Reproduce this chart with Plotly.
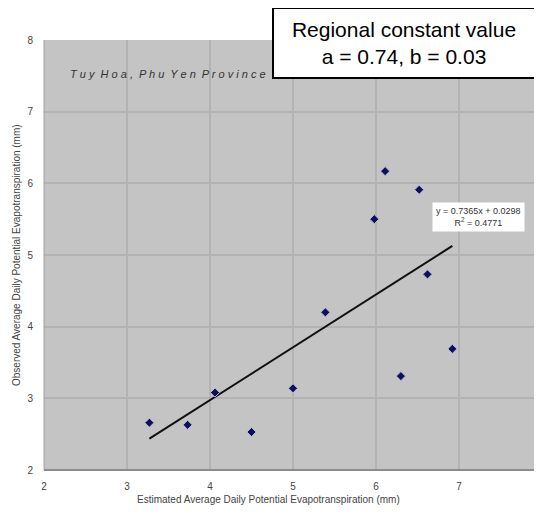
import plotly.graph_objects as go

est = [3.27, 3.73, 4.06, 4.50, 5.00, 5.39, 5.98, 6.11, 6.30, 6.52, 6.62, 6.92]
obs = [2.66, 2.63, 3.08, 2.53, 3.14, 4.20, 5.50, 6.17, 3.31, 5.91, 4.73, 3.69]
slope = 0.7365
intercept = 0.0298
r2 = 0.4771
tick_vals = [2, 3, 4, 5, 6, 7, 8]

fit_x = [min(est), max(est)]
fit_y = [slope * v + intercept for v in fit_x]

fig = go.Figure()
fig.add_trace(go.Scatter(x=fit_x, y=fit_y, mode="lines",
                         line=dict(color="#111111", width=2), hoverinfo="skip"))
fig.add_trace(go.Scatter(x=est, y=obs, mode="markers",
                         marker=dict(symbol="diamond", size=7, color="#10105a",
                                     line=dict(color="#b8b8e0", width=1))))

axis_common = dict(range=[2, 8], tickvals=tick_vals, showgrid=True,
                   gridcolor="#b3b3b3", gridwidth=2, zeroline=False,
                   tickfont=dict(family="Arial", size=10, color="#444444"),
                   showline=False, ticks="", automargin=False)

W, H = 534, 508
L, R, T, B = 36, 0, 32, 46
fig.update_layout(
    width=W, height=H,
    margin=dict(l=L, r=R, t=T, b=B),
    paper_bgcolor="white", plot_bgcolor="#c4c4c4",
    showlegend=False,
    font=dict(family="Arial"),
    xaxis=dict(**axis_common, ticklabelstandoff=9),
    yaxis=dict(**axis_common, ticklabelstandoff=10),
)

fig.add_shape(type="line", xref="paper", yref="paper", x0=0, x1=1, y0=0, y1=0,
              line=dict(color="#8c8c8c", width=2))
fig.add_shape(type="line", xref="paper", yref="paper", x0=0, x1=0, y0=0, y1=1,
              line=dict(color="#a0a0a0", width=1))

pw, ph = W - L - R, H - T - B

# axis titles
fig.add_annotation(x=(260 - L) / pw, y=-(492 - (H - B)) / ph, xref="paper", yref="paper",
                   text="Estimated Average Daily Potential Evapotranspiration (mm)",
                   showarrow=False, xanchor="center", yanchor="middle",
                   font=dict(family="Arial", size=10, color="#444444"))
fig.add_annotation(x=-(L - 8) / pw, y=0.5, xref="paper", yref="paper", textangle=-90,
                   text="Observed Average Daily Potential Evapotranspiration (mm)",
                   showarrow=False, xanchor="center", yanchor="middle",
                   font=dict(family="Arial", size=10, color="#444444"))

fig.add_annotation(x=2.29, y=7.53, xref="x", yref="y", xanchor="left", yanchor="middle",
                   text="<i>T u y  H o a ,  P h u  Y e n  P r o v i n c e</i>",
                   showarrow=False, font=dict(family="Arial", size=11, color="#333333"))

fig.add_annotation(x=7.23, y=5.53, xref="x", yref="y", xanchor="center", yanchor="middle",
                   text=f"y = {slope}x + {intercept}<br>R<sup>2</sup> = {r2}",
                   showarrow=False, bgcolor="white", borderpad=3,
                   font=dict(family="Arial", size=9, color="#333333"))

fig.add_annotation(x=(396 - L) / pw, y=(H - B - 35) / ph, xref="paper", yref="paper",
                   showarrow=False, xanchor="center", yanchor="middle",
                   text="Regional constant value<br>a = 0.74, b = 0.03",
                   font=dict(family="Arial", size=21, color="black"),
                   width=258, height=66, borderpad=1,
                   bgcolor="white", bordercolor="black", borderwidth=2)

fig.write_html("out.html")
